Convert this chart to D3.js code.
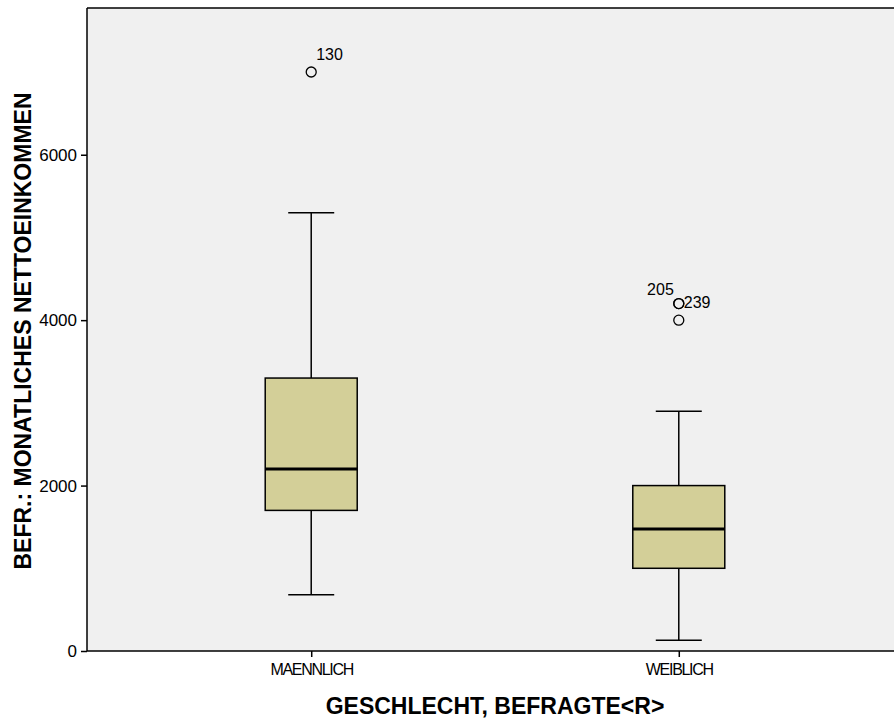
<!DOCTYPE html>
<html>
<head>
<meta charset="utf-8">
<script src="https://cdn.jsdelivr.net/npm/d3@7"></script>
<style>
  body { margin: 0; background: #fff; }
  text { font-family: Arial, "Liberation Sans", sans-serif; }
</style>
</head>
<body>
<svg id="chart" width="894" height="720"></svg>
<script>
// data
const categories = ['MAENNLICH', 'WEIBLICH'];
const q1 = [1700, 1000];
const median = [2200, 1475];
const q3 = [3300, 2000];
const whiskerLow = [680, 130];
const whiskerHigh = [5300, 2900];
const outliers = [
  { cat: 'MAENNLICH', value: 7000, label: '130', side: 'right' },
  { cat: 'WEIBLICH', value: 4200, label: '205', side: 'left' },
  { cat: 'WEIBLICH', value: 4200, label: '239', side: 'right' },
  { cat: 'WEIBLICH', value: 4000, label: '', side: 'right' }
];
const yTicks = [0, 2000, 4000, 6000];

const svg = d3.select('#chart');
const plotL = 87, plotT = 8, plotB = 651, plotR = 903;

const x = d3.scalePoint().domain(categories).range([plotL, plotR]).padding(0.61);
const y = d3.scaleLinear().domain([0, 7774]).range([plotB, plotT]);
const boxW = 92;

// plot background
svg.append('rect')
  .attr('x', plotL).attr('y', plotT)
  .attr('width', plotR - plotL).attr('height', plotB - plotT)
  .attr('fill', '#f0f0f0');

// boxes
categories.forEach((c, i) => {
  const cx = x(c);
  const g = svg.append('g');
  // whiskers
  g.append('line').attr('x1', cx).attr('x2', cx)
    .attr('y1', y(q3[i])).attr('y2', y(whiskerHigh[i]))
    .attr('stroke', '#000').attr('stroke-width', 1.5);
  g.append('line').attr('x1', cx).attr('x2', cx)
    .attr('y1', y(q1[i])).attr('y2', y(whiskerLow[i]))
    .attr('stroke', '#000').attr('stroke-width', 1.5);
  [whiskerHigh[i], whiskerLow[i]].forEach(v => {
    g.append('line').attr('x1', cx - boxW / 4).attr('x2', cx + boxW / 4)
      .attr('y1', y(v)).attr('y2', y(v))
      .attr('stroke', '#000').attr('stroke-width', 1.5);
  });
  g.append('rect')
    .attr('x', cx - boxW / 2).attr('y', y(q3[i]))
    .attr('width', boxW).attr('height', y(q1[i]) - y(q3[i]))
    .attr('fill', '#d3cf98').attr('stroke', '#000').attr('stroke-width', 1.5);
  g.append('line').attr('x1', cx - boxW / 2).attr('x2', cx + boxW / 2)
    .attr('y1', y(median[i])).attr('y2', y(median[i]))
    .attr('stroke', '#000').attr('stroke-width', 3);
});

// outliers
outliers.forEach(o => {
  const cx = x(o.cat), cy = y(o.value);
  svg.append('circle').attr('cx', cx).attr('cy', cy).attr('r', 5)
    .attr('fill', 'none').attr('stroke', '#000').attr('stroke-width', 1.3);
  if (o.label) {
    svg.append('text')
      .attr('x', o.side === 'right' ? cx + 5 : cx - 5)
      .attr('y', o.side === 'right' ? cy - (o.value > 5000 ? 12 : -4) : cy - 9)
      .attr('text-anchor', o.side === 'right' ? 'start' : 'end')
      .attr('font-size', 16)
      .text(o.label);
  }
});

// axes
const yAxis = svg.append('g').attr('transform', `translate(${plotL},0)`)
  .call(d3.axisLeft(y).tickValues(yTicks).tickSize(6).tickSizeOuter(0).tickFormat(d3.format('d')));
yAxis.select('.domain').remove();
yAxis.selectAll('line').attr('stroke', '#000').attr('stroke-width', 1.5);
yAxis.selectAll('text').attr('font-size', 17).attr('fill', '#000').attr('x', -10)
  .attr('font-family', 'Arial, "Liberation Sans", sans-serif');

const xAxis = svg.append('g').attr('transform', `translate(0,${plotB})`)
  .call(d3.axisBottom(x).tickSize(6).tickSizeOuter(0));
xAxis.select('.domain').remove();
xAxis.selectAll('line').attr('stroke', '#000').attr('stroke-width', 1.5);
xAxis.selectAll('text').attr('font-size', 16).attr('fill', '#000').attr('y', 8).attr('dy', '1em')
  .attr('letter-spacing', -1.3).attr('font-family', 'Arial, "Liberation Sans", sans-serif');

// frame lines
svg.append('line').attr('x1', plotL).attr('x2', plotL).attr('y1', plotT).attr('y2', plotB)
  .attr('stroke', '#000').attr('stroke-width', 1.5);
svg.append('line').attr('x1', plotL).attr('x2', 894).attr('y1', plotT).attr('y2', plotT)
  .attr('stroke', '#000').attr('stroke-width', 1.5);
svg.append('line').attr('x1', plotL).attr('x2', 894).attr('y1', plotB).attr('y2', plotB)
  .attr('stroke', '#000').attr('stroke-width', 1.5);

// titles
svg.append('text')
  .attr('transform', `translate(31,331) rotate(-90)`)
  .attr('text-anchor', 'middle')
  .attr('font-size', 23).attr('font-weight', 'bold')
  .text('BEFR.: MONATLICHES NETTOEINKOMMEN');
svg.append('text')
  .attr('x', 495).attr('y', 714)
  .attr('text-anchor', 'middle')
  .attr('font-size', 23).attr('font-weight', 'bold')
  .text('GESCHLECHT, BEFRAGTE<R>');
</script>
</body>
</html>
